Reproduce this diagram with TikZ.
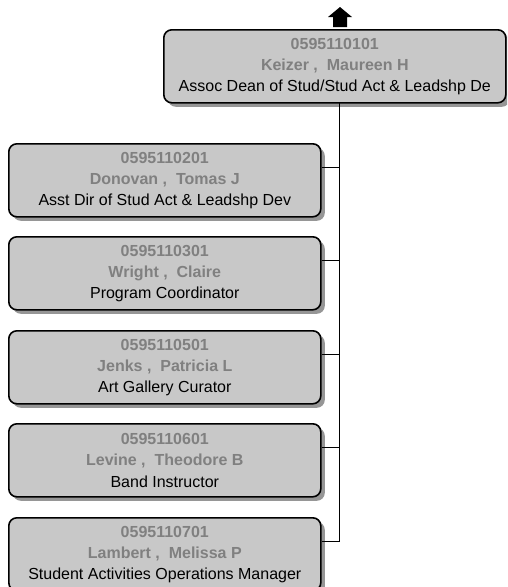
\documentclass[tikz,border=0pt]{standalone}
\usepackage{fontspec}
\setmainfont{Liberation Sans}
\usetikzlibrary{shadows}
\definecolor{boxfill}{RGB}{200,200,200}
\definecolor{boxshadow}{RGB}{150,150,150}
\definecolor{idgray}{RGB}{128,128,128}
\tikzset{
  person/.style={draw=black, line width=1.6pt, fill=boxfill, rounded corners=8pt,
    minimum height=73pt, inner sep=0pt, align=center,
    font=\fontsize{16}{21.2}\selectfont,
    general shadow={fill=boxshadow, shadow xshift=4pt, shadow yshift=-4pt}},
  staff/.style={person, minimum width=312pt, anchor=north west},
  link/.style={draw=black, line width=0.8pt}
}
\newcommand{\entry}[3]{{\color{idgray}\bfseries #1}\\{\color{idgray}\bfseries #2}\\#3}
\begin{document}
\begin{tikzpicture}[x=1pt, y=-1pt]
\useasboundingbox (0,0) rectangle (507,587);
\clip (0,0) rectangle (507,587);
\fill[white] (0,0) rectangle (507,587);

% head of the unit
\node[person, minimum width=342pt, anchor=north west] (top) at (163,29)
  {\entry{0595110101}{Keizer ,~ Maureen H}{Assoc Dean of Stud/Stud Act \& Leadshp De}};

% upward pointer above the head box
\coordinate (up) at (340,27);
\fill[black] (up) ++(-7,0) -- ++(0,-10) -- ++(-5,0) -- ++(12,-10) -- ++(12,10)
  -- ++(-5,0) -- ++(0,10) -- cycle;

% direct reports
\node[staff] (b1) at (8,143) {\entry{0595110201}{Donovan ,~ Tomas J}{Asst Dir of Stud Act \& Leadshp Dev}};
\node[staff] (b2) at (8,236) {\entry{0595110301}{Wright ,~ Claire}{Program Coordinator}};
\node[staff] (b3) at (8,330) {\entry{0595110501}{Jenks ,~ Patricia L}{Art Gallery Curator}};
\node[staff] (b4) at (8,423) {\entry{0595110601}{Levine ,~ Theodore B}{Band Instructor}};
\node[staff] (b5) at (8,517) {\entry{0595110701}{Lambert ,~ Melissa P}{Student Activities Operations Manager}};

% reporting lines
\coordinate (spine) at (339,102);
\coordinate (spineend) at (339,541);
\draw[link] (spine) -- (spineend);
\foreach \b in {b1,b2,b3,b4,b5}
  \draw[link] ([yshift=-24.5pt]\b.north east) -| (spine);
\end{tikzpicture}
\end{document}
